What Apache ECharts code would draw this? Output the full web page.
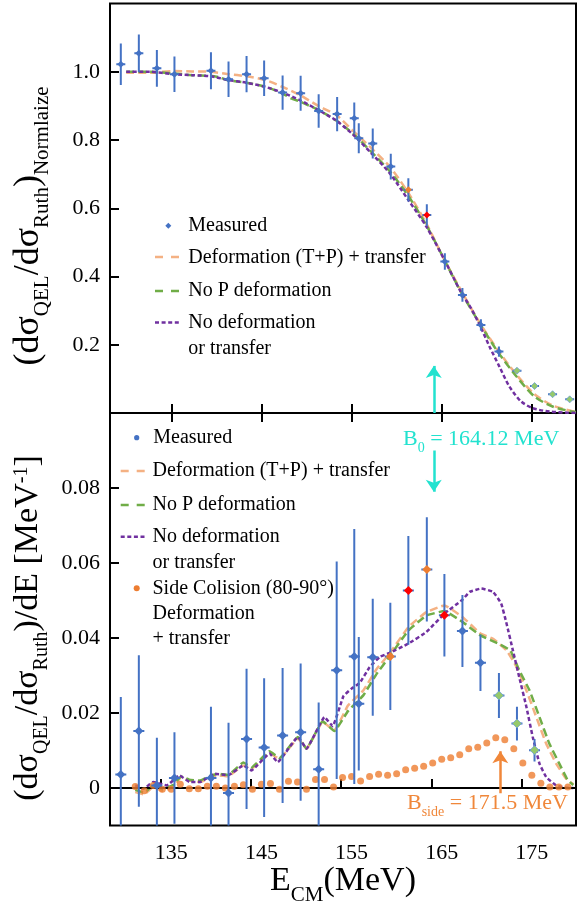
<!DOCTYPE html>
<html><head><meta charset="utf-8">
<script src="https://cdn.jsdelivr.net/npm/echarts@6/dist/echarts.min.js"></script>
<style>html,body{margin:0;padding:0;background:#fff}#c{width:577px;height:901px}</style>
</head><body><div id="c"></div>
<script>
// ===================== DATA =====================
const xTickVals = [135, 145, 155, 165, 175];
const lowBottomTickVals = [133.85, 143.85, 153.85, 163.85, 173.85];
const topYTicks = [0.2, 0.4, 0.6, 0.8, 1.0];
const lowYTicks = [0, 0.02, 0.04, 0.06, 0.08];

// Measured (top: normalized ratio)
const measTopE = [129.4, 131.4, 133.4, 135.35, 139.4, 141.35, 143.35, 145.3, 147.35, 149.35, 151.35, 153.4, 155.3, 155.8, 157.35, 159.35, 161.3, 163.35, 165.35, 167.3, 169.35, 171.35, 173.35, 175.3, 177.3, 179.2];
const measTopV = [1.022, 1.054, 1.010, 0.993, 1.003, 0.978, 0.993, 0.981, 0.939, 0.937, 0.885, 0.876, 0.864, 0.805, 0.790, 0.722, 0.654, 0.580, 0.444, 0.346, 0.258, 0.180, 0.124, 0.079, 0.055, 0.040];
const measTopErr = [0.061, 0.055, 0.054, 0.052, 0.054, 0.052, 0.053, 0.052, 0.050, 0.051, 0.049, 0.050, 0.046, 0.044, 0.044, 0.038, 0.034, 0.032, 0.024, 0.020, 0.017, 0.015, 0, 0, 0, 0];
const measTopKind = [0,0,0,0,0,0,0,0,0,0,0,0,0,0,0,0,1,2,0,0,0,0,3,3,3,3];

// Measured (bottom: derivative)
const measLowE = [129.4, 131.4, 133.4, 135.35, 139.4, 141.35, 143.35, 145.3, 147.35, 149.35, 151.35, 153.35, 155.3, 155.8, 157.35, 159.3, 161.3, 163.35, 165.3, 167.3, 169.3, 171.35, 173.35, 175.3];
const measLowV = [0.0036, 0.0152, 0.0007, 0.0027, 0.0027, -0.0013, 0.0131, 0.0108, 0.0140, 0.0149, 0.0050, 0.0314, 0.0351, 0.0225, 0.0349, 0.0351, 0.0527, 0.0583, 0.0461, 0.0419, 0.0334, 0.0247, 0.0172, 0.0101];
const measLowErr = [0.0207, 0.0202, 0.0127, 0.0122, 0.019, 0.0187, 0.0187, 0.0185, 0.018, 0.0183, 0.0178, 0.029, 0.034, 0.0178, 0.0156, 0.0143, 0.0145, 0.0139, 0.011, 0.0096, 0.0075, 0.006, 0.0045, 0.003];
const measLowKind = [0,0,0,0,0,0,0,0,0,0,0,0,0,0,0,1,2,1,2,0,0,3,3,3];

// Curves, top panel
const defTopE = [130, 132.6, 135.2, 137.3, 139.3, 141.3, 143.3, 145.4, 147.3, 149.25, 151.3, 153.3, 155.2, 157.2, 159.3, 161.3, 163.3, 165.3, 167.3, 169.2, 171.2, 173.3, 175.3, 177.3, 179.4, 179.9];
const defTopV = [0.997, 0.997, 1.002, 1.001, 1.0, 0.993, 0.987, 0.976, 0.956, 0.932, 0.900, 0.873, 0.826, 0.776, 0.720, 0.645, 0.555, 0.449, 0.352, 0.265, 0.185, 0.112, 0.055, 0.022, 0.006, 0.004];
const noPTopE = [130, 132.6, 135.2, 137.3, 139.3, 140.3, 141.3, 143.3, 145.4, 147.3, 148.3, 149.25, 151.3, 153.3, 155.2, 157.2, 159.25, 161.3, 163.3, 165.3, 167.0, 169.2, 171.2, 173.3, 175.3, 177.3, 179.4, 179.9];
const noPTopV = [1.0, 1.0, 0.995, 0.99, 0.988, 0.984, 0.975, 0.968, 0.956, 0.937, 0.922, 0.913, 0.888, 0.857, 0.818, 0.765, 0.708, 0.636, 0.550, 0.449, 0.361, 0.263, 0.180, 0.107, 0.048, 0.019, 0.0044, 0.003];
const noDefTopE = [130, 132.6, 135.2, 137.3, 139.3, 141.3, 143.3, 145.4, 147.3, 149.25, 151.3, 153.3, 155.2, 157.2, 159.25, 161.3, 163.3, 165.3, 167.0, 168.3, 169.3, 170.3, 171.4, 172.5, 173.8, 175.1, 177.0, 179.0, 179.9];
const noDefTopV = [1.0, 1.0, 0.993, 0.99, 0.987, 0.976, 0.968, 0.956, 0.939, 0.917, 0.888, 0.857, 0.815, 0.761, 0.702, 0.624, 0.546, 0.449, 0.361, 0.305, 0.253, 0.195, 0.136, 0.078, 0.034, 0.014, 0.004, 0.001, 0.0];

// Curves, bottom panel
const defLowE = [131, 132, 133, 134, 135.2, 136.1, 137, 138.2, 139.3, 140.2, 141.3, 143, 143.9, 145.9, 147, 149.05, 150, 151.8, 153.1, 154.6, 156.3, 157.8, 159.2, 161.3, 163.3, 165.3, 167.3, 169.3, 170.7, 172.2, 173.3, 174.4, 175.5, 176.6, 177.7, 178.8, 179.6];
const defLowV = [-0.0011, -0.0017, 0.0003, -0.0008, 0.0003, 0.0029, 0.002, 0.0016, 0.0028, 0.0034, 0.0031, 0.006, 0.0052, 0.0092, 0.0078, 0.0132, 0.0105, 0.0176, 0.0154, 0.022, 0.026, 0.0318, 0.0358, 0.0429, 0.0469, 0.0487, 0.0456, 0.0412, 0.0398, 0.0367, 0.0323, 0.026, 0.0189, 0.0118, 0.0065, 0.0025, 0.001];
const noPLowE = [131, 132, 133, 134, 135.2, 136.1, 137, 138.2, 139.3, 140.2, 141.3, 143, 143.9, 145.9, 147, 149.05, 150, 151.8, 153.1, 154.6, 156.3, 157.8, 159.2, 161.3, 163.3, 165.3, 167.3, 169.3, 171.3, 172.6, 173.6, 174.75, 175.85, 176.95, 178.05, 179.0, 179.6];
const noPLowV = [-0.0005, -0.0012, 0.0008, -0.0003, 0.0008, 0.0031, 0.0022, 0.002, 0.0032, 0.0038, 0.0035, 0.0068, 0.0055, 0.0098, 0.008, 0.0136, 0.0105, 0.0178, 0.0152, 0.0205, 0.0247, 0.0305, 0.035, 0.042, 0.046, 0.0472, 0.0443, 0.0407, 0.0385, 0.0367, 0.0314, 0.026, 0.0189, 0.0118, 0.0065, 0.002, 0.0008];
const noDefLowE = [131, 131.9, 133, 134.5, 135.9, 137.05, 138.2, 139.8, 141.3, 143, 143.9, 145.9, 146.8, 149.05, 150, 152, 152.9, 154.1, 155.0, 155.9, 157.0, 158.15, 159.2, 161.3, 163.3, 165.3, 167.3, 168.1, 169.4, 170.7, 171.6, 172.2, 172.9, 173.6, 174.4, 175.1, 175.85, 176.6, 177.7, 178.8, 179.6];
const noDefLowV = [0.0007, -0.0002, 0.0016, 0.0007, 0.0034, 0.0016, 0.0016, 0.0038, 0.0034, 0.006, 0.0047, 0.0092, 0.0069, 0.0136, 0.0105, 0.0189, 0.0165, 0.0245, 0.0265, 0.028, 0.0322, 0.035, 0.036, 0.0385, 0.0416, 0.0465, 0.0502, 0.0523, 0.0532, 0.0523, 0.0492, 0.0438, 0.0367, 0.0296, 0.0216, 0.0136, 0.0065, 0.0029, 0.0007, 0.0001, 0];

// Side collision (80-90 deg)
const sideE = [131,132,133,134,135,136,137,138,139,140,141,142,143,144,145,146,147,148,149,150,151,152,153,154,155,156,157,158,159,160,161,162,163,164,165,166,167,168,169,170,171,172,173,174,175,176,177,178,179];
const sideV = [0.0004,-0.0007,0.0007,-0.0003,-0.0003,0.001,-0.0002,-0.0002,0.0005,0.0005,0,0.0005,0.0009,-0.0003,0.001,0.0012,-0.0003,0.0018,0.0016,-0.0003,0.0023,0.0023,0.0003,0.0028,0.0031,0.0019,0.0031,0.0037,0.0034,0.0038,0.0049,0.0053,0.0058,0.0067,0.0077,0.0081,0.0089,0.0105,0.0109,0.012,0.0134,0.0129,0.0105,0.0067,0.0034,0.0013,0.0003,0.0003,0.0003];

const B0 = 164.12;
const Bside = 171.5;
const arrowTop = [0, 0.138];
const arrowCyanLow = [0.090, 0.079];
const arrowOrangeLow = [-0.0014, 0.0098];

// ===================== STYLE =====================
const SERIF = 'Liberation Serif';
const BLUE = '#4472C4', ORANGE = '#ED7D31', RED = '#FF0000', GREEN = '#95C96B';
const C_DEF = '#F4B183', C_NOP = '#70AD47', C_NODEF = '#7030A0';
const CYAN = '#22E2CF', ORANGE_TXT = '#F0873A';
const KIND_COL = [BLUE, ORANGE, RED, GREEN];
const X_MIN = 128.2, X_MAX = 179.9;

const zip = (a, b) => a.map((v, i) => [v, b[i]]);
const zip4 = (a, b, c, d) => a.map((v, i) => [v, b[i], c[i], d[i]]);

function errRender(hw, ds) {
  return function (params, api) {
    const e = api.value(0), v = api.value(1), er = api.value(2), k = api.value(3);
    const p = api.coord([e, v]);
    const ch = [];
    if (er > 0) {
      const pt = api.coord([e, v + er]), pb = api.coord([e, v - er]);
      ch.push({type: 'line', shape: {x1: p[0], y1: pt[1], x2: p[0], y2: pb[1]}, style: {stroke: BLUE, lineWidth: 2}});
    }
    ch.push({type: 'line', shape: {x1: p[0] - hw, y1: p[1], x2: p[0] + hw, y2: p[1]}, style: {stroke: BLUE, lineWidth: 2}});
    ch.push({type: 'polygon', shape: {points: [[p[0], p[1] - ds], [p[0] + ds, p[1]], [p[0], p[1] + ds], [p[0] - ds, p[1]]]},
      style: {fill: KIND_COL[k], stroke: k === 3 ? '#6d9fd6' : null, lineWidth: 0.8}});
    return {type: 'group', children: ch};
  };
}

function lineSeries(name, xi, e, v, color, dash, z) {
  return {name, type: 'line', xAxisIndex: xi, yAxisIndex: xi === 0 ? 0 : 1, data: zip(e, v),
    showSymbol: false, smooth: xi === 0 ? 0.25 : 0.1, z, silent: true,
    lineStyle: {color, width: 2.5, type: dash}};
}

function arrowML(x, y0, y1, color) {
  return {silent: true, symbol: ['none', 'arrow'], symbolSize: 12, animation: false,
    label: {show: false}, lineStyle: {color, width: 2.5, type: 'solid'},
    emphasis: {disabled: true},
    data: [[{coord: [x, y0]}, {coord: [x, y1]}]]};
}

function mkRich(main, sub, drop, color) {
  const lh = Math.round(main * 1.15);
  return {
    m: {fontFamily: SERIF, fontSize: main, lineHeight: lh, verticalAlign: 'top', fill: color},
    s: {fontFamily: SERIF, fontSize: sub, lineHeight: sub, padding: [lh / 2 - sub / 2 + drop, 0, 0, 0], verticalAlign: 'top', fill: color},
    p: {fontFamily: SERIF, fontSize: sub, lineHeight: sub, padding: [0, 0, 0, 0], verticalAlign: 'top', fill: color}
  };
}

function txt(x, y, text, size, color, align) {
  return {type: 'text', x, y, silent: true,
    style: {text, font: size + 'px "' + SERIF + '"', fill: color || '#000', align: align || 'left', verticalAlign: 'middle',
      textAlign: align || 'left', textVerticalAlign: 'middle'}};
}
function richTxt(x, y, text, rich, rot, align) {
  return {type: 'text', x, y, rotation: rot || 0, silent: true,
    style: {text, rich, align: align || 'center', verticalAlign: 'middle', textAlign: align || 'center', textVerticalAlign: 'middle'}};
}
function seg(x1, x2, y, color, dash) {
  return {type: 'line', silent: true, shape: {x1, y1: y, x2, y2: y}, style: {stroke: color, lineWidth: 2.5, lineDash: dash}};
}

const axTick = (vals) => ({show: true, inside: true, length: 9, lineStyle: {color: '#000', width: 2}, customValues: vals});
const labelStyle = {fontFamily: SERIF, fontSize: 22, color: '#000'};

const option = {
  animation: false,
  backgroundColor: '#fff',
  grid: [
    {left: 110, top: 3.5, width: 466, height: 409.5, show: true, borderColor: '#000', borderWidth: 2, backgroundColor: 'transparent'},
    {left: 110, top: 413, width: 466, height: 412.5, show: true, borderColor: '#000', borderWidth: 2, backgroundColor: 'transparent'}
  ],
  xAxis: [
    {gridIndex: 0, type: 'value', min: X_MIN, max: X_MAX, axisLine: {show: false}, splitLine: {show: false},
      axisLabel: {show: false}, axisTick: axTick(xTickVals)},
    {gridIndex: 1, type: 'value', position: 'bottom', min: X_MIN, max: X_MAX, axisLine: {show: false}, splitLine: {show: false},
      axisLabel: Object.assign({show: true, margin: 17, customValues: xTickVals, formatter: v => String(Math.round(v))}, labelStyle),
      axisTick: axTick(lowBottomTickVals)},
    {gridIndex: 1, type: 'value', position: 'top', min: X_MIN, max: X_MAX, axisLine: {show: false}, splitLine: {show: false},
      axisLabel: {show: false}, axisTick: axTick(xTickVals)}
  ],
  yAxis: [
    {gridIndex: 0, type: 'value', min: 0, max: 1.2, axisLine: {show: false}, splitLine: {show: false},
      axisLabel: Object.assign({show: true, margin: 10, customValues: topYTicks, formatter: v => v.toFixed(1)}, labelStyle),
      axisTick: axTick(topYTicks)},
    {gridIndex: 1, type: 'value', min: -0.01, max: 0.1, axisLine: {show: false}, splitLine: {show: false},
      axisLabel: Object.assign({show: true, margin: 10, customValues: lowYTicks, formatter: v => (Math.abs(v) < 1e-9 ? '0' : v.toFixed(2))}, labelStyle),
      axisTick: axTick(lowYTicks)}
  ],
  series: [
    // ---- top panel ----
    Object.assign(lineSeries('Deformation (T+P) + transfer', 0, defTopE, defTopV, C_DEF, [8, 4], 2),
      {markLine: arrowML(B0, arrowTop[0], arrowTop[1], CYAN)}),
    lineSeries('No P deformation', 0, noPTopE, noPTopV, C_NOP, [8, 4], 3),
    lineSeries('No deformation or transfer', 0, noDefTopE, noDefTopV, C_NODEF, [4, 2.5], 4),
    {name: 'Measured', type: 'custom', xAxisIndex: 0, yAxisIndex: 0, clip: true, z: 6, silent: true,
      renderItem: errRender(4.5, 3.5), data: zip4(measTopE, measTopV, measTopErr, measTopKind)},
    // ---- bottom panel ----
    Object.assign(lineSeries('Deformation (T+P) + transfer', 1, defLowE, defLowV, C_DEF, [8, 4], 2),
      {markLine: {silent: true, symbol: 'none', label: {show: false}, lineStyle: {color: '#000', width: 2, type: 'solid'},
        emphasis: {disabled: true}, data: [{yAxis: 0}]}}),
    lineSeries('No P deformation', 1, noPLowE, noPLowV, C_NOP, [8, 4], 3),
    Object.assign(lineSeries('No deformation or transfer', 1, noDefLowE, noDefLowV, C_NODEF, [4, 2.5], 4),
      {markLine: arrowML(B0, arrowCyanLow[0], arrowCyanLow[1], CYAN)}),
    {name: 'Side Colision', type: 'scatter', xAxisIndex: 1, yAxisIndex: 1, z: 5, silent: true,
      symbol: 'circle', symbolSize: 7, itemStyle: {color: ORANGE}, data: zip(sideE, sideV),
      markLine: arrowML(Bside, arrowOrangeLow[0], arrowOrangeLow[1], ORANGE_TXT)},
    {name: 'Measured', type: 'custom', xAxisIndex: 1, yAxisIndex: 1, clip: true, z: 6, silent: true,
      renderItem: errRender(5.5, 4.5), data: zip4(measLowE, measLowV, measLowErr, measLowKind)}
  ],
  graphic: {elements: [
    // axis titles
    richTxt(31, 226, '{m|(dσ}{s|QEL}{m|/dσ}{s|Ruth}{m|)}{s|Normlaize}', mkRich(36, 21, 11, '#000'), Math.PI / 2),
    richTxt(31, 628, '{m|(dσ}{s|QEL}{m|/dσ}{s|Ruth}{m|)/dE [MeV}{p|-1}{m|]}', mkRich(34, 20, 11, '#000'), Math.PI / 2),
    richTxt(343, 884, '{m|E}{s|CM}{m|(MeV)}', mkRich(34, 21, 11, '#000'), 0),
    // annotations
    richTxt(403, 441, '{m|B}{s|0}{m| = 164.12 MeV}', mkRich(22, 14, 7, CYAN), 0, 'left'),
    richTxt(407, 805, '{m|B}{s|side}{m| = 171.5 MeV}', mkRich(22, 14, 7, ORANGE_TXT), 0, 'left'),
    // top legend
    {type: 'polygon', silent: true, shape: {points: [[168.3, 222.7], [171.3, 225.7], [168.3, 228.7], [165.3, 225.7]]}, style: {fill: BLUE}},
    txt(188.3, 225.5, 'Measured', 20),
    seg(155, 179.5, 257, C_DEF, [8, 8]),
    txt(188.3, 257.5, 'Deformation (T+P) + transfer', 20),
    seg(155, 179.5, 291, C_NOP, [8, 8]),
    txt(188.3, 291, 'No P deformation', 20),
    seg(155, 179.5, 322.5, C_NODEF, [4, 2.6]),
    txt(188.3, 322.5, 'No deformation', 20),
    txt(188.3, 348.3, 'or transfer', 20),
    // bottom legend
    {type: 'circle', silent: true, shape: {cx: 136.7, cy: 437.7, r: 2.6}, style: {fill: BLUE}},
    txt(153.3, 437.7, 'Measured', 20),
    seg(120.7, 145, 471, C_DEF, [8, 8]),
    txt(152.5, 471, 'Deformation (T+P) + transfer', 20),
    seg(120.7, 145, 505, C_NOP, [8, 8]),
    txt(152.5, 505, 'No P deformation', 20),
    seg(120.7, 145, 536.7, C_NODEF, [4, 2.6]),
    txt(152.5, 536.7, 'No deformation', 20),
    txt(152.5, 562.3, 'or transfer', 20),
    {type: 'circle', silent: true, shape: {cx: 136.7, cy: 588.3, r: 3}, style: {fill: ORANGE}},
    txt(152.5, 588.3, 'Side Colision (80-90°)', 20),
    txt(152.5, 613.3, 'Deformation', 20),
    txt(152.5, 638.3, '+ transfer', 20)
  ]}
};

const chart = echarts.init(document.getElementById('c'), null, {renderer: 'canvas'});
chart.setOption(option);
</script>
</body></html>
